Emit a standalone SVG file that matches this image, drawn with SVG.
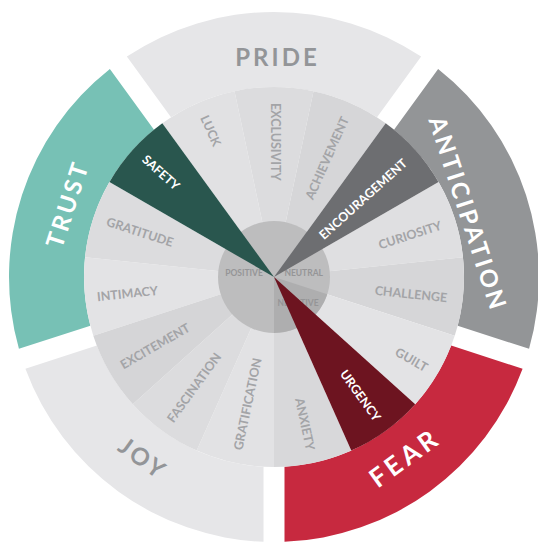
<svg xmlns="http://www.w3.org/2000/svg" width="538" height="542" viewBox="0 0 538 542">
<style>
.w{font-family:Lato,"Liberation Sans",sans-serif;font-weight:700;font-size:12.5px;fill:#a3a4a7;text-anchor:middle}
.wh{fill:#ffffff}
.o{font-family:Lato,"Liberation Sans",sans-serif;font-weight:700;font-size:24px;letter-spacing:3px;text-anchor:middle}
.og{fill:#939598}
.ow{fill:#ffffff}
.c{font-family:Lato,"Liberation Sans",sans-serif;font-weight:700;font-size:8.5px;fill:#959597;text-anchor:middle}
</style>
<rect width="538" height="542" fill="#ffffff"/>
<g id="outer-ring">
  <g id="pride"><path d="M126.85,56.61 A265,265 0 0 1 421.15,56.61 L377.01,117.35 A190,190 0 0 0 170.99,117.35 Z" fill="#e6e6e8"/>
    <text class="o og" transform="translate(277.5,57) rotate(0)" y="8.6">PRIDE</text></g>
  <g id="anticipation"><path d="M438.13,68.95 A265,265 0 0 1 529.07,348.84 L457.67,325.64 A190,190 0 0 0 394.00,129.69 Z" fill="#939597"/>
    <text class="o ow" transform="translate(468,214) rotate(72)" y="8.6">ANTICIPATION</text></g>
  <g id="fear"><path d="M522.59,368.81 A265,265 0 0 1 284.5,541.79 L284.5,466.71 A190,190 0 0 0 451.18,345.61 Z" fill="#c7293f"/>
    <text class="o ow" transform="translate(404.7,457.5) rotate(-36)" y="9.4" style="font-size:26px;letter-spacing:4px">FEAR</text></g>
  <g id="joy"><path d="M263.5,541.79 A265,265 0 0 1 25.41,368.81 L96.82,345.61 A190,190 0 0 0 263.5,466.71 Z" fill="#e6e6e8"/>
    <text class="o og" transform="translate(143,458.5) rotate(36)" y="8.6">JOY</text></g>
  <g id="trust"><path d="M18.93,348.84 A265,265 0 0 1 109.87,68.95 L154.00,129.69 A190,190 0 0 0 90.33,325.64 Z" fill="#77c1b5"/>
    <text class="o ow" transform="translate(67.5,204) rotate(-72)" y="8.6">TRUST</text></g>
</g>
<g id="wedges">
  <g id="w-intimacy"><path d="M274,277 L93.30,335.71 A190,190 0 0 1 85.04,257.14 Z" fill="#e3e3e5"/></g>
  <g id="w-gratitude"><path d="M274,277 L85.04,257.14 A190,190 0 0 1 109.46,182 Z" fill="#dcdcde"/></g>
  <g id="w-luck"><path d="M274,277 L162.32,123.29 A190,190 0 0 1 234.50,91.15 Z" fill="#e1e1e3"/></g>
  <g id="w-exclusivity"><path d="M274,277 L234.50,91.15 A190,190 0 0 1 313.50,91.15 Z" fill="#dcdcde"/></g>
  <g id="w-achievement"><path d="M274,277 L313.50,91.15 A190,190 0 0 1 385.68,123.29 Z" fill="#d6d6d8"/></g>
  <g id="w-curiosity"><path d="M274,277 L438.54,182 A190,190 0 0 1 462.96,257.14 Z" fill="#dfdfe1"/></g>
  <g id="w-challenge"><path d="M274,277 L462.96,257.14 A190,190 0 0 1 454.70,335.71 Z" fill="#d6d6d8"/></g>
  <g id="w-guilt"><path d="M274,277 L454.70,335.71 A190,190 0 0 1 415.20,404.13 Z" fill="#e3e3e5"/></g>
  <g id="w-anxiety"><path d="M274,277 L351.28,450.57 A190,190 0 0 1 274,467 Z" fill="#d8d8da"/></g>
  <g id="w-gratification"><path d="M274,277 L274,467 A190,190 0 0 1 196.72,450.57 Z" fill="#e2e2e4"/></g>
  <g id="w-fascination"><path d="M274,277 L196.72,450.57 A190,190 0 0 1 132.80,404.13 Z" fill="#dcdcde"/></g>
  <g id="w-excitement"><path d="M274,277 L132.80,404.13 A190,190 0 0 1 93.30,335.71 Z" fill="#d5d5d7"/></g>
</g>
<g id="center">
  <circle cx="274" cy="277" r="56" fill="#bdbdbe"/>
  <path d="M274,277 L327.26,294.30 A56,56 0 0 1 274,333 Z" fill="#aeaeaf"/>
  <text class="c" x="244" y="276">POSITIVE</text>
  <text class="c" x="303.7" y="276">NEUTRAL</text>
  <text class="c" x="298" y="305.5">NEGATIVE</text>
</g>
<g id="highlights">
  <g id="w-safety"><path d="M274,277 L109.46,182 A190,190 0 0 1 162.32,123.29 Z" fill="#29564e"/></g>
  <g id="w-encouragement"><path d="M274,277 L385.68,123.29 A190,190 0 0 1 438.54,182 Z" fill="#6d6e71"/></g>
  <g id="w-urgency"><path d="M274,277 L415.20,404.13 A190,190 0 0 1 351.28,450.57 Z" fill="#6d1420"/></g>
</g>
<g id="wedge-labels">
  <text class="w" transform="translate(210.8,130.8) rotate(66)" y="4.5">LUCK</text>
  <text class="w" transform="translate(275.5,141.7) rotate(90)" y="4.5">EXCLUSIVITY</text>
  <text class="w" transform="translate(327,158) rotate(-66)" y="4.5">ACHIEVEMENT</text>
  <text class="w wh" transform="translate(363,199) rotate(-42)" y="4.5">ENCOURAGEMENT</text>
  <text class="w" transform="translate(410,235) rotate(-18)" y="4.5">CURIOSITY</text>
  <text class="w" transform="translate(411,294) rotate(6)" y="4.5">CHALLENGE</text>
  <text class="w" transform="translate(411.5,359.5) rotate(30)" y="4.5">GUILT</text>
  <text class="w wh" transform="translate(360.5,395.5) rotate(54)" y="4.5">URGENCY</text>
  <text class="w" transform="translate(305,424) rotate(78)" y="4.5">ANXIETY</text>
  <text class="w" transform="translate(247.5,404) rotate(-78)" y="4.5">GRATIFICATION</text>
  <text class="w" transform="translate(194,387.5) rotate(-54)" y="4.5">FASCINATION</text>
  <text class="w" transform="translate(155,346) rotate(-30)" y="4.5">EXCITEMENT</text>
  <text class="w" transform="translate(127.5,293.5) rotate(-6)" y="4.5">INTIMACY</text>
  <text class="w" transform="translate(140,232) rotate(18)" y="4.5">GRATITUDE</text>
  <text class="w wh" transform="translate(161,172.5) rotate(42)" y="4.5">SAFETY</text>
</g>
</svg>
